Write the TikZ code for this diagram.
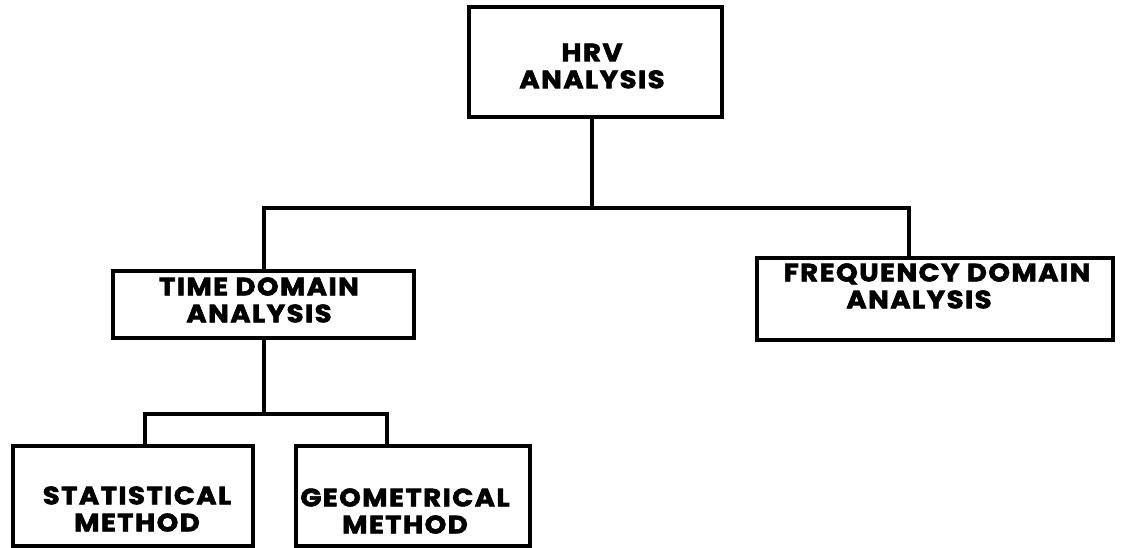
\documentclass[tikz,border=0pt]{standalone}
\usepackage{fontspec}
\setmainfont{Poppins}
\newfontfamily\lblfont{Poppins}[FakeStretch=1.1,LetterSpace=6,BoldFeatures={FakeBold=2.5}]
\begin{document}
\begin{tikzpicture}[x=1pt,y=-1pt,
  box/.style={draw=black,line width=3.2pt,fill=white,rectangle,inner sep=0pt},
  lbl/.style={font=\lblfont\fontsize{25}{27}\selectfont\bfseries,align=center,inner sep=0pt},
  conn/.style={draw=black,line width=3.2pt}]
\useasboundingbox (0,0) rectangle (1122,547);
% boxes
\node[box,minimum width=253pt,minimum height=110pt] (hrv) at (595.5,62) {};
\node[box,minimum width=301pt,minimum height=67pt] (td) at (263.5,304.5) {};
\node[box,minimum width=356pt,minimum height=82pt] (fd) at (935,299) {};
\node[box,minimum width=240pt,minimum height=100pt] (sm) at (133,496) {};
\node[box,minimum width=234pt,minimum height=100pt] (gm) at (413,496) {};
% texts
\node[lbl] (thrv) at (592,66) {HRV\\ANALYSIS};
\node[lbl] (ttd) at (259,300) {TIME DOMAIN\\ANALYSIS};
\node[lbl] (tfd) at (937,286) {FREQUENCY DOMAIN\\\hspace*{-36pt}ANALYSIS};
\node[lbl] (tsm) at (137,509) {STATISTICAL\\METHOD};
\node[lbl] (tgm) at (405,511) {GEOMETRICAL\\METHOD};
% connector junctions
\coordinate (b1) at (592,208);
\coordinate (bl) at (264,208);
\coordinate (br) at (909,208);
\coordinate (b3) at (145,414);
\coordinate (b4) at (387,414);
\coordinate (b5) at (264,414);
% connectors
\draw[conn] (hrv.south -| b1) -- (b1);
\draw[conn] (bl |- td.north) -- (bl) -- (br) -- (br |- fd.north);
\draw[conn] (td.south -| b5) -- (b5);
\draw[conn] (b3 |- sm.north) -- (b3) -- (b4) -- (b4 |- gm.north);
\end{tikzpicture}
\end{document}
